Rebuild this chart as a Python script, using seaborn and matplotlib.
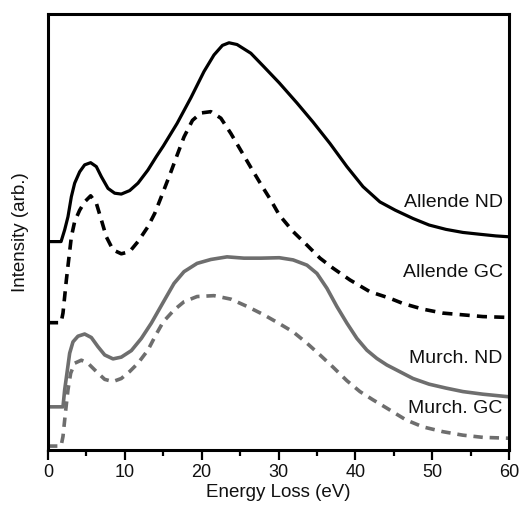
import numpy as np
import pandas as pd
import matplotlib
matplotlib.use("Agg")
import matplotlib.pyplot as plt
from matplotlib.ticker import MultipleLocator
import seaborn as sns

# ---- data (arbitrary intensity units) ----
allende_nd_e = [0, 1.7, 2.17, 2.6, 3.04, 3.47, 4.12, 4.77, 5.55, 6.29, 6.94, 7.81, 8.68, 9.54,
                10.63, 11.71, 13.0, 14.1, 15.0, 16.8, 18.6, 20.3, 21.6, 22.7, 23.56, 24.6, 26.4,
                28.1, 30.1, 32.4, 34.5, 36.7, 38.9, 41.0, 43.2, 45.2, 47.5, 49.6, 51.8, 54.0,
                56.1, 58.3, 60]
allende_nd_i = [47.8, 47.8, 50.5, 53.5, 58.1, 61.2, 63.8, 65.4, 65.9, 65.0, 62.7, 60.0, 58.9, 58.7,
                59.5, 61.2, 64.2, 67.3, 69.7, 74.9, 80.8, 86.8, 90.6, 92.8, 93.4, 93.0, 91.0,
                87.9, 84.2, 79.6, 75.2, 70.3, 65.0, 60.4, 56.9, 55.0, 53.1, 51.6, 50.6, 49.9,
                49.5, 49.1, 48.9]

allende_gc_e = [0, 1.7, 1.95, 2.17, 2.39, 2.69, 3.04, 3.47, 4.12, 4.77, 5.55, 6.29, 6.94, 7.59,
                8.46, 9.54, 10.63, 11.71, 13.0, 13.9, 14.75, 16.0, 16.8, 17.7, 18.8, 19.9, 21.2,
                22.5, 23.8, 25.3, 26.6, 27.9, 29.0, 30.1, 31.9, 33.7, 35.4, 37.1, 39.3, 41.9,
                44.5, 46.2, 48.8, 51.4, 54.0, 56.6, 60]
allende_gc_i = [29.2, 29.2, 31.4, 35.2, 39.0, 43.6, 48.9, 52.4, 55.0, 56.9, 58.3, 56.6, 52.8, 48.9,
                45.9, 45.0, 45.5, 47.8, 51.2, 54.3, 58.1, 63.8, 67.6, 71.8, 75.6, 77.3, 77.6,
                76.1, 72.6, 68.1, 64.2, 60.4, 57.3, 53.9, 50.1, 47.0, 44.0, 41.7, 39.0, 36.3,
                34.8, 33.6, 32.3, 31.4, 31.0, 30.6, 30.4]

murch_nd_e = [0, 1.95, 2.17, 2.52, 2.82, 3.25, 3.9, 4.77, 5.64, 6.5, 7.38, 8.46, 9.54, 10.85,
              12.15, 13.45, 15.0, 16.4, 17.7, 19.4, 21.2, 23.3, 25.5, 27.7, 30.1, 31.9, 33.7,
              35.0, 36.3, 37.6, 38.9, 40.2, 41.5, 42.8, 44.1, 45.2, 47.5, 49.6, 51.8, 54.0,
              56.6, 60]
murch_nd_i = [9.9, 9.9, 13.8, 18.3, 22.2, 24.8, 26.1, 26.6, 25.8, 23.7, 21.8, 20.9, 21.3, 22.8,
              25.6, 29.1, 33.9, 38.2, 40.9, 42.8, 43.7, 44.3, 44.0, 44.0, 44.1, 43.6, 42.4,
              40.5, 37.1, 32.9, 29.1, 25.6, 22.9, 21.0, 19.5, 18.5, 16.4, 15.1, 14.2, 13.4,
              12.8, 12.2]

murch_gc_e = [0, 1.7, 1.95, 2.26, 2.6, 2.95, 3.47, 4.34, 5.2, 6.29, 7.38, 8.46, 9.54, 10.63,
              11.71, 13.0, 14.1, 15.0, 16.4, 17.7, 19.4, 21.6, 23.8, 25.95, 28.1, 29.9, 31.9,
              33.7, 35.4, 37.1, 38.9, 40.6, 42.3, 44.1, 45.2, 46.6, 48.8, 51.4, 54.0, 56.6, 60]
murch_gc_i = [0.9, 0.9, 3.1, 8.4, 13.8, 17.6, 19.9, 20.6, 19.9, 18.0, 16.2, 15.7, 16.4, 18.0,
              19.9, 22.9, 26.6, 29.4, 32.1, 34.0, 35.2, 35.4, 34.6, 32.9, 31.0, 29.2, 27.1,
              24.5, 21.8, 19.0, 15.9, 13.4, 11.5, 9.6, 8.4, 6.9, 5.3, 4.2, 3.4, 2.9, 2.7]

labels = ["Allende ND", "Allende GC", "Murch. ND", "Murch. GC"]
label_y = [56.7, 40.8, 21.1, 9.6]

# ---- plotting ----
sns.set_theme(style="white")
plt.rcParams["font.family"] = ["Liberation Sans", "DejaVu Sans"]

fig = plt.figure(figsize=(5.2, 5.12), dpi=100)
ax = fig.add_axes([48 / 520, 62 / 512, 461 / 520, 436 / 512])

BLACK = "#000000"
GRAY = "#6e6e6e"

series = [
    (allende_nd_e, allende_nd_i, BLACK, "-", 2.3),
    (allende_gc_e, allende_gc_i, BLACK, (0, (2.8, 2.0)), 2.6),
    (murch_nd_e, murch_nd_i, GRAY, "-", 2.6),
    (murch_gc_e, murch_gc_i, GRAY, (0, (2.6, 1.9)), 2.6),
]
for e, i, c, ls, lw in series:
    df = pd.DataFrame({"E": e, "I": i})
    sns.lineplot(data=df, x="E", y="I", ax=ax, color=c, linestyle=ls, linewidth=lw,
                 errorbar=None, sort=True)

for lab, y in zip(labels, label_y):
    ax.text(59.2, y, lab, ha="right", va="center", fontsize=14, color="#111111")

ax.set_xlim(0, 60)
ax.set_ylim(0, 100)
ax.set_yticks([])
ax.xaxis.set_major_locator(MultipleLocator(10))
ax.xaxis.set_minor_locator(MultipleLocator(5))
ax.tick_params(axis="x", which="major", direction="out", length=7, width=1.6,
               labelsize=13, pad=3, bottom=True, top=False, color="black", labelcolor="#111111")
ax.tick_params(axis="x", which="minor", direction="out", length=4, width=1.6,
               bottom=True, top=False, color="black")
for sp in ax.spines.values():
    sp.set_visible(True)
    sp.set_linewidth(2.2)
    sp.set_color("black")

ax.set_xlabel("Energy Loss (eV)", fontsize=13.5, labelpad=2, color="#111111")
ax.set_ylabel("Intensity (arb.)", fontsize=13.5, labelpad=14, color="#111111")

fig.savefig("out.png", dpi=100)
